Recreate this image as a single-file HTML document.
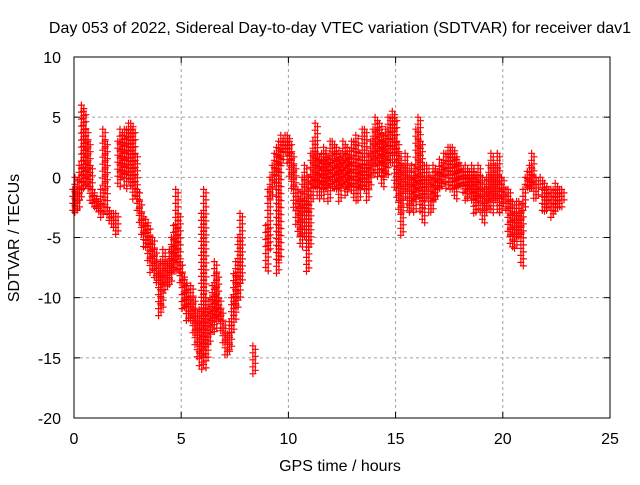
<!DOCTYPE html>
<html><head><meta charset="utf-8"><style>
body{margin:0;background:#fff;}
svg text{font-family:"Liberation Sans",sans-serif;font-size:16px;fill:#000;}
</style></head><body>
<svg id="chart" width="640" height="480">
<text x="340" y="33" text-anchor="middle">Day 053 of 2022, Sidereal Day-to-day VTEC variation (SDTVAR) for receiver dav1</text>
<text x="340" y="471" text-anchor="middle">GPS time / hours</text>
<text transform="translate(19,238) rotate(-90)" text-anchor="middle">SDTVAR / TECUs</text>
<g id="grid"></g><g id="axes"></g><g id="series"></g>
<rect x="74" y="57" width="536" height="361" fill="none" stroke="#000" stroke-width="1"/>
</svg>
<script>
const xTicks=[0,5,10,15,20,25];
const yTicks=[10,5,0,-5,-10,-15,-20];
const times=[0.0,0.1,0.2,0.3,0.4,0.5,0.6,0.7,0.8,0.9,1.0,1.1,1.2,1.3,1.4,1.5,1.6,1.7,1.8,1.9,2.0,2.1,2.2,2.3,2.4,2.5,2.6,2.7,2.8,2.9,3.0,3.1,3.2,3.3,3.4,3.5,3.6,3.7,3.8,3.9,4.0,4.1,4.2,4.3,4.4,4.5,4.6,4.7,4.8,4.9,5.0,5.1,5.2,5.3,5.4,5.5,5.6,5.7,5.8,5.9,6.0,6.1,6.2,6.3,6.4,6.5,6.6,6.7,6.8,6.9,7.0,7.1,7.2,7.3,7.4,7.5,7.6,7.7,7.8,8.4,9.0,9.1,9.2,9.3,9.4,9.5,9.6,9.7,9.8,9.9,10.0,10.1,10.2,10.3,10.4,10.5,10.6,10.7,10.8,10.9,11.0,11.1,11.2,11.3,11.4,11.5,11.6,11.7,11.8,11.9,12.0,12.1,12.2,12.3,12.4,12.5,12.6,12.7,12.8,12.9,13.0,13.1,13.2,13.3,13.4,13.5,13.6,13.7,13.8,13.9,14.0,14.1,14.2,14.3,14.4,14.5,14.6,14.7,14.8,14.9,15.0,15.1,15.2,15.3,15.4,15.5,15.6,15.7,15.8,15.9,16.0,16.1,16.2,16.3,16.4,16.5,16.6,16.7,16.8,16.9,17.0,17.1,17.2,17.3,17.4,17.5,17.6,17.7,17.8,17.9,18.0,18.1,18.2,18.3,18.4,18.5,18.6,18.7,18.8,18.9,19.0,19.1,19.2,19.3,19.4,19.5,19.6,19.7,19.8,19.9,20.0,20.1,20.2,20.3,20.4,20.5,20.6,20.7,20.8,20.9,21.0,21.1,21.2,21.3,21.4,21.5,21.6,21.8,21.9,22.0,22.1,22.2,22.3,22.4,22.5,22.6,22.7,22.8];
const lows=[-3,-3,-3,-2,-1,-1,-1,-1,-2,-2.5,-2.5,-3,-3,-3.5,-1,-3,-3.5,-4,-4,-4.5,-5,-1,0,0,-1,-0.5,0,-1,-2,-2,-3,-4,-5,-6,-6,-7,-8,-7.5,-8.5,-9,-11.5,-11,-9,-9.5,-9,-9,-8,-8,-7,-8,-9,-11,-11,-12,-12,-12,-13,-14,-15,-16,-15,-16,-15,-14,-13,-12,-13,-12,-12,-13,-14,-15,-15,-14.5,-13,-12,-11,-10,-9,-16.5,-8,-6,-2,-1,0,-8,-7,1,2,2,1,0,-1,-3,-4,-5,-6,-5,-3,-8,-6,-2,-1,-1,-2,-1,-2,-1,-1,-2,-1,-0.5,-1,-1,-2,-1,-1,-1.5,-1,-1,-1.5,-2,-1,-2,-1,-1,-0.5,-2,-1,0,1,0,1,0,-1,0,0,1,1,2,-1,-2,-3,-5,-2,-1,-3,-3,-2,-3,-2,-1,-3,-4,-2,-1,-3,-3,-2,-2,-1,-1,-1,0,-1,0,-1,-1,-2,-1,-1,-1,-1.5,-2,-2,-1,-2,-3,-3,-2,-3,-4,-3,-3,-2,-3,-2,-2,-3,-3,-2,-2.5,-3,-5,-6,-5,-6,-5,-5,-7.5,-3,-1,-1,-1,-1,-2,-2,-1,-3,-3,-3,-2.5,-3.5,-3,-3,-2.5,-2.5,-2];
const highs=[-1,0,-1,1,6,5.5,4,3,1,-1,-1.5,-2,-2,-1,4,3,-2.5,-3,-3,-3,-3,3,4,3.5,4,4,4.5,4.5,4,2,-1,-2,-3,-4,-3.5,-4,-5,-5,-6,-7,-8,-7,-6,-7,-7,-6,-5,-4,-1,-3,-7,-8,-8.5,-9,-10,-9,-10,-11,-12,-11,-3,-1,-10,-11,-10,-9,-7,-8,-10,-11,-12,-13,-13,-12,-10,-8,-7,-5,-3,-14,-4,-1,0,1,2,2.5,3,3.5,3,3.5,3.5,3,2,1,-1,-1,-2,0,1,-2,0,2,3,4.5,2,1.5,2,2.5,2,1.5,3,3,2,2.5,1.5,2,3,2,2.5,1.5,3,3,3.5,1,2,4,4,1,2,3,4,5,4,4.5,3,3.5,4,5,5,5.5,5,3,2,1,1,2,1,0,1,0,4,5,3,0,1,1,0,0,1,0.5,0.5,1.5,1,2,2,2.5,2.5,2.5,2,1.5,1,1,0.5,1,0,0.5,1,0.5,0,1,0,0,-1,0,1,2,0,1,2,0,0,-1,-1,-1,-2,-2,-3,-2,-2,-3,-1,0,0.5,1,2,0,0,0,-1,-0.5,-1,-1,-1,-1,-0.5,-1,-1,-1];
const NS='http://www.w3.org/2000/svg';
const X0=74,X1=610,Y0=418,Y1=57;
function xs(v){return X0+(v-0)/(25-0)*(X1-X0);}
function ys(v){return Y0-(v+20)/(30)*(Y0-Y1);}
const grid=document.getElementById('grid'),axes=document.getElementById('axes'),ser=document.getElementById('series');
function mk(t,a,p){const e=document.createElementNS(NS,t);for(const k in a)e.setAttribute(k,a[k]);p.appendChild(e);return e;}
xTicks.forEach(t=>{const x=xs(t);
 if(t>0&&t<25){const g=mk('line',{x1:x,x2:x,y1:Y1,y2:Y0,stroke:'#a0a0a0','stroke-dasharray':'3,3'},grid);
 
 }
 mk('line',{x1:x,x2:x,y1:Y0,y2:Y0-6,stroke:'#000'},axes);
 mk('line',{x1:x,x2:x,y1:Y1,y2:Y1+6,stroke:'#000'},axes);
 const l=mk('text',{x:x,y:444,'text-anchor':'middle'},axes);l.textContent=t;
 
 
});
yTicks.forEach(t=>{const y=ys(t);
 if(t>-20&&t<10){const g=mk('line',{x1:X0,x2:X1,y1:y,y2:y,stroke:'#a0a0a0','stroke-dasharray':'3,3'},grid);
 
 }
 mk('line',{x1:X0,x2:X0+6,y1:y,y2:y,stroke:'#000'},axes);
 mk('line',{x1:X1,x2:X1-6,y1:y,y2:y,stroke:'#000'},axes);
 const l=mk('text',{x:61,y:y+6,'text-anchor':'end'},axes);l.textContent=t;
 
 
});
let d='';
times.forEach((t,i)=>{
 const x=xs(t),yl=ys(lows[i]),yh=ys(highs[i]);
 let k=0;
 for(let y=yh;y<=yl+0.01;y+=3.5){const xx=x+(k%2?1.2:-1.2);k++;
  d+=`M${(xx-3.5).toFixed(1)},${y.toFixed(1)}h7M${xx.toFixed(1)},${(y-3.5).toFixed(1)}v7`;}
 if(k===0||yl-yh<1){d+=`M${x-3.5},${yl}h7M${x},${yl-3.5}v7`;}
});
const p=mk('path',{d:d,stroke:'#ff0000','stroke-width':1.2,fill:'none'},ser);


</script>
</body></html>
